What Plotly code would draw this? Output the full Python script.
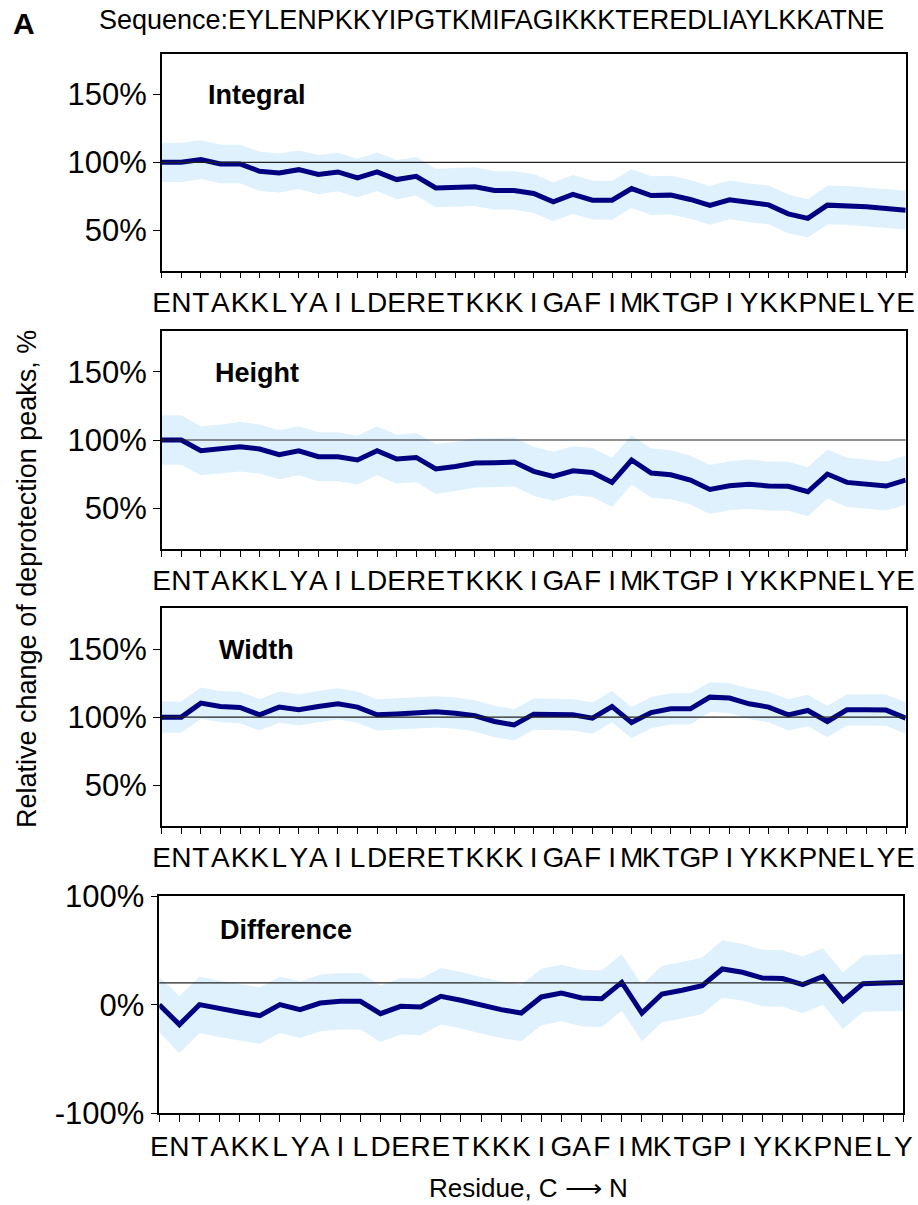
import plotly.graph_objects as go
from plotly.subplots import make_subplots

# Residue labels along the sequence (C -> N)
residues = list("ENTAKKLYAILDERETKKKIGAFIMKTGPIYKKPNELYE")
residues_diff = list("ENTAKKLYAILDERETKKKIGAFIMKTGPIYKKPNELY")

# Relative change of deprotection peaks, % (mean and spread)
integral = [100, 100, 102, 98.8, 98.8, 93.4, 92.2, 94.6, 91, 92.9,
            88.5, 93, 87.3, 89.7, 81.1, 81.5, 82, 79.2, 79.2, 77,
            70.9, 76.3, 72.1, 72, 80.6, 75.5, 75.8, 72.6, 68.2, 72.3,
            70.1, 68.6, 62, 58.6, 68.4, 68.2, 67.2, 66, 64.7]
integral_err = [14.5, 14.5, 14.3, 14.2, 14.2, 14.5, 14.4, 14.2, 14.5, 14.2,
                14.2, 14.2, 14.5, 14.2, 14.2, 14.3, 14.3, 14.2, 14.2, 14.4,
                14.3, 14.3, 14.3, 14.3, 14.3, 14.3, 14.3, 14.3, 14.3, 14.3,
                14.3, 14.3, 14.3, 14.1, 14.3, 14.3, 14.3, 14.3, 14.3]

height = [100, 100, 92.1, 93.4, 95.1, 93.4, 89.2, 92.1, 87.7, 87.7,
          85.3, 92.1, 86, 87.2, 78.7, 80.6, 83.1, 83.3, 83.8, 77,
          73.3, 77.4, 76.2, 68.9, 85.3, 75.7, 74.5, 70.6, 63.7, 66.4,
          67.6, 66.2, 66, 62, 75, 68.9, 67.6, 66.2, 70.6]
height_err = [18.1, 18.1, 18.0, 18.0, 18.2, 18.0, 18.0, 18.0, 18.0, 18.0,
              18.0, 18.0, 18.0, 18.0, 18.3, 18.0, 18.0, 18.0, 18.0, 18.0,
              18.0, 18.0, 18.0, 18.0, 18.0, 18.0, 18.0, 18.0, 18.0, 18.0,
              18.0, 18.0, 18.0, 18.0, 18.0, 18.0, 18.0, 18.0, 18.0]

width = [100, 100, 110.3, 107.8, 107.1, 101.7, 107.4, 105.4, 107.8, 109.8,
         107.4, 101.7, 102.4, 103.2, 103.9, 102.9, 101, 96.8, 94.3, 102.2,
         102.2, 101.7, 99.3, 107.8, 96, 103.4, 106.1, 106.1, 114.7, 114,
         109.8, 107.4, 101.7, 104.9, 96.8, 105.4, 105.4, 105.2, 99.3]
width_err = [11.5, 11.5, 11.5, 11.5, 11.5, 11.5, 11.5, 11.5, 11.5, 11.5,
             11.5, 11.5, 11.5, 11.5, 11.5, 11.5, 11.5, 11.5, 11.5, 11.5,
             11.5, 11.5, 11.5, 11.5, 11.5, 11.5, 11.5, 11.5, 11.0, 11.0,
             11.2, 11.2, 11.5, 11.5, 11.5, 11.5, 11.5, 11.5, 11.5]

difference = [0, -18.4, 0, -4, -7, -10.1, 0, -4.6, 1.5, 3.1,
              3.1, -8.3, -1.5, -2.1, 7.7, 4, -0.6, -4.6, -7.7, 7.1,
              10.7, 6.1, 5.5, 20.5, -7.7, 9.8, 13.2, 17.5, 32.8, 29.8,
              24.5, 24, 18.4, 26, 3.7, 19.3, 19.9, 20.5]
difference_err = [25.5, 26.3, 26, 26, 26, 26, 26, 26, 26, 26,
                  26, 26, 26, 26, 26, 26, 26, 26, 26, 26,
                  26, 26, 26, 26, 26, 26, 26, 26, 26.4, 26,
                  26, 26, 26, 26, 26, 26, 26, 26.4]

panels = [
    ("Integral", residues, integral, integral_err, 100),
    ("Height", residues, height, height_err, 100),
    ("Width", residues, width, width_err, 100),
    ("Difference", residues_diff, difference, difference_err, 20),
]

W, H = 918, 1205
FONT = "Liberation Sans, Arial, sans-serif"
LINE_COLOR = "#000080"
BAND_COLOR = "#dff1fd"

# pixel boxes of each panel: (left, right, top, bottom)
boxes = [
    (161.7, 905.7, 54.0, 270.7),
    (161.7, 905.7, 331.0, 549.0),
    (161.7, 905.7, 608.3, 826.0),
    (159.3, 903.3, 896.0, 1113.3),
]
label_pos = [(206, 95), (213, 373), (217, 650), (218, 930)]

fig = make_subplots(rows=4, cols=1)

for k, (name, labels, vals, err, ref) in enumerate(panels):
    row = k + 1
    xs = list(range(len(labels)))
    upper = [v + e for v, e in zip(vals, err)]
    lower = [v - e for v, e in zip(vals, err)]
    fig.add_trace(go.Scatter(x=xs, y=upper, mode="lines", line=dict(width=0, color=BAND_COLOR),
                             hoverinfo="skip", showlegend=False), row=row, col=1)
    fig.add_trace(go.Scatter(x=xs, y=lower, mode="lines", line=dict(width=0, color=BAND_COLOR),
                             fill="tonexty", fillcolor=BAND_COLOR, hoverinfo="skip",
                             showlegend=False), row=row, col=1)
    fig.add_trace(go.Scatter(x=xs, y=vals, mode="lines", line=dict(width=5, color=LINE_COLOR),
                             name=name, showlegend=False), row=row, col=1)

    l, r, t, b = boxes[k]
    xa = "xaxis" if row == 1 else f"xaxis{row}"
    ya = "yaxis" if row == 1 else f"yaxis{row}"
    fig.layout[xa].update(
        domain=[l / W, r / W], range=[0, len(labels) - 1], automargin=False,
        tickmode="array", tickvals=xs, ticktext=labels,
        ticks="outside", ticklen=7 if name == "Difference" else 6, tickwidth=1.3, tickcolor="black",
        showline=True, linecolor="black", linewidth=1.5, mirror=True,
        showgrid=False, zeroline=False,
        tickfont=dict(family=FONT, size=28, color="black"), tickangle=0,
    )
    if name == "Difference":
        yvals, ytext, yrange = [-100, 0, 100], ["-100%", "0%", "100%"], [-100, 100]
    else:
        yvals, ytext, yrange = [50, 100, 150], ["50%", "100%", "150%"], [20, 180]
    fig.layout[ya].update(
        domain=[1 - b / H, 1 - t / H], range=yrange, automargin=False,
        tickmode="array", tickvals=yvals, ticktext=ytext,
        ticks="outside", ticklen=7, tickwidth=1.3, tickcolor="black",
        showline=True, linecolor="black", linewidth=1.5, mirror=True,
        showgrid=False, zeroline=False,
        tickfont=dict(family=FONT, size=31, color="black"),
    )
    xref = "x" if row == 1 else f"x{row}"
    yref = "y" if row == 1 else f"y{row}"
    fig.add_shape(type="line", xref=f"{xref} domain", yref=yref, x0=0, x1=1, y0=ref, y1=ref,
                  line=dict(color="#222222", width=1.2), layer="above")
    lx, ly = label_pos[k]
    fig.add_annotation(text=f"<b>{name}</b>", xref="paper", yref="paper",
                       x=lx / W, y=1 - ly / H, xanchor="left", yanchor="middle",
                       showarrow=False, font=dict(family=FONT, size=27, color="black"))

fig.add_annotation(text="<b>A</b>", xref="paper", yref="paper", x=11 / W, y=1 - 23 / H,
                   xanchor="left", yanchor="middle", showarrow=False,
                   font=dict(family=FONT, size=30, color="black"))
fig.add_annotation(text="Sequence:EYLENPKKYIPGTKMIFAGIKKKTEREDLIAYLKKATNE", xref="paper", yref="paper",
                   x=97 / W, y=1 - 20 / H, xanchor="left", yanchor="middle", showarrow=False,
                   font=dict(family=FONT, size=27, color="black"))
fig.add_annotation(text="Relative change of deprotection peaks, %", xref="paper", yref="paper",
                   x=27 / W, y=1 - 579 / H, xanchor="center", yanchor="middle", textangle=-90,
                   showarrow=False, font=dict(family=FONT, size=27, color="black"))
fig.add_annotation(text="Residue, C \u27f6 N", xref="paper", yref="paper",
                   x=528 / W, y=1 - 1188 / H, xanchor="center", yanchor="middle",
                   showarrow=False, font=dict(family=FONT, size=26, color="black"))

fig.update_layout(template="none", width=W, height=H, margin=dict(l=0, r=0, t=0, b=0, pad=0),
                  paper_bgcolor="white", plot_bgcolor="white", showlegend=False)

fig.write_html("out.html")
